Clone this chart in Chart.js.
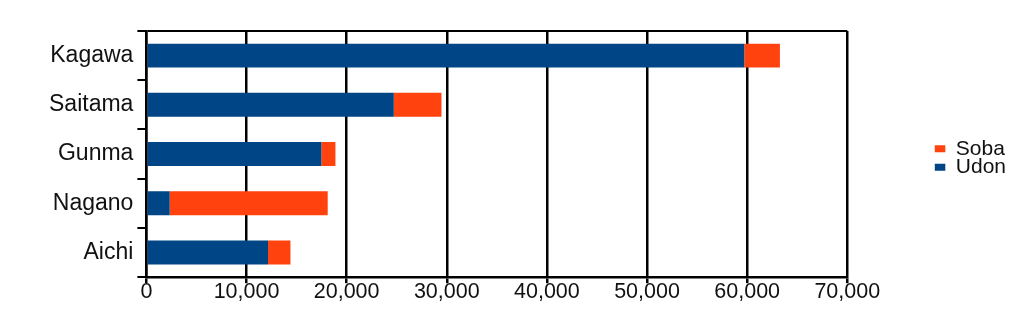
<!DOCTYPE html>
<html>
<head>
<meta charset="utf-8">
<script src="https://cdn.jsdelivr.net/npm/chart.js@4/dist/chart.umd.min.js"></script>
<style>
  html, body { margin: 0; padding: 0; background: #ffffff; }
  #wrap { width: 1024px; height: 324px; }
</style>
</head>
<body>
<div id="wrap"><canvas id="c" width="1024" height="324"></canvas></div>
<script>
const categories = ['Kagawa', 'Saitama', 'Gunma', 'Nagano', 'Aichi'];
const udonValues = [59710, 24710, 17480, 2330, 12150];
const sobaValues = [3560, 4760, 1400, 15780, 2240];
const xTickLabels = ['0', '10,000', '20,000', '30,000', '40,000', '50,000', '60,000', '70,000'];
const seriesNames = ['Udon', 'Soba'];

const FONT = "'Liberation Sans', Arial, sans-serif";

new Chart(document.getElementById('c'), {
  type: 'bar',
  data: {
    labels: categories,
    datasets: [
      { label: seriesNames[0], data: udonValues, backgroundColor: '#004586', borderWidth: 0,
        barPercentage: 0.487, categoryPercentage: 1 },
      { label: seriesNames[1], data: sobaValues, backgroundColor: '#ff420e', borderWidth: 0,
        barPercentage: 0.487, categoryPercentage: 1 }
    ]
  },
  options: {
    indexAxis: 'y',
    responsive: false,
    animation: false,
    layout: { padding: { left: 45, right: 8, top: 31, bottom: 23 } },
    scales: {
      x: {
        stacked: true,
        min: 0, max: 70000,
        ticks: {
          stepSize: 10000,
          color: '#111',
          font: { family: FONT, size: 21.5 },
          padding: -4,
          callback: (v, i) => xTickLabels[i]
        },
        grid: { color: '#000', lineWidth: 2.5, tickLength: 6, tickColor: '#000' },
        border: { color: '#000', width: 2.5 }
      },
      y: {
        stacked: true,
        ticks: { color: '#111', font: { family: FONT, size: 23 }, padding: 4 },
        grid: {
          offset: true,
          color: (ctx) => ctx.index === 0 ? '#000' : 'rgba(0,0,0,0)',
          tickColor: '#000',
          lineWidth: 2,
          tickLength: 9
        },
        border: { color: '#000', width: 2.5 }
      },
      y2: {
        type: 'category',
        labels: categories,
        position: 'right',
        display: true,
        grid: { display: false, drawTicks: false },
        border: { display: false },
        ticks: { display: false },
        afterFit: (s) => { s.width = 87.5; }
      }
    },
    plugins: {
      legend: {
        position: 'right',
        fullSize: false,
        reverse: true,
        title: { display: true, text: '', font: { size: 8, lineHeight: '8px' }, padding: 0 },
        labels: {
          boxWidth: 13,
          boxHeight: 7,
          padding: -2.5,
          color: '#111',
          font: { family: FONT, size: 21 }
        }
      },
      tooltip: { enabled: false }
    }
  }
});
</script>
</body>
</html>
